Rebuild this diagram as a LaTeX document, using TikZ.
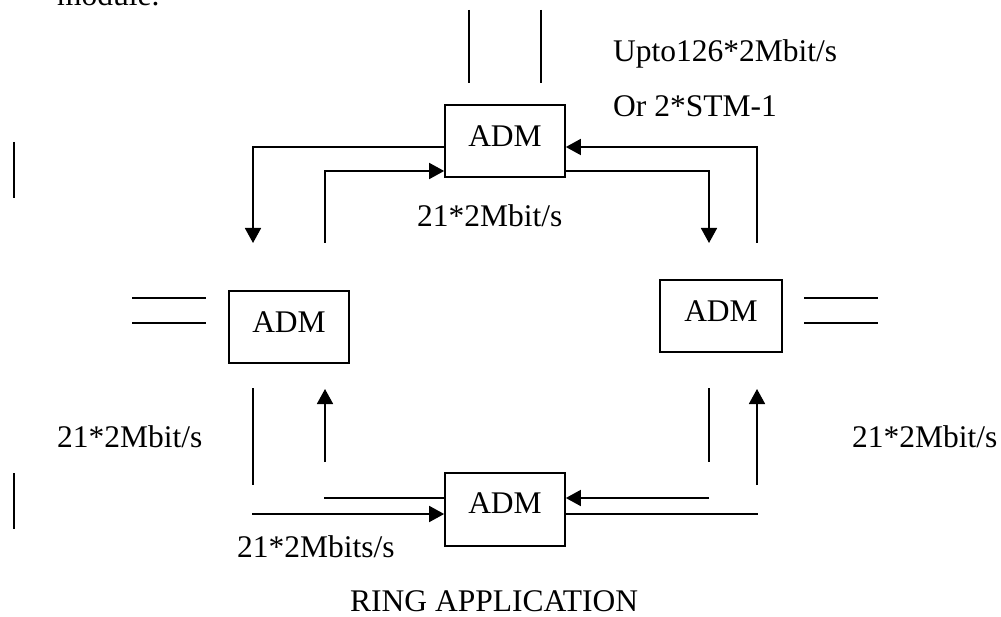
\documentclass[tikz,border=0pt]{standalone}
\usepackage{fontspec}
\setmainfont{Liberation Serif}
\usetikzlibrary{arrows.meta}
\begin{document}
\begin{tikzpicture}[x=1pt,y=-1pt,
  ln/.style={line width=1.7pt},
  arr/.style={line width=1.7pt,-{Triangle[length=15pt,width=16pt]}},
  adm/.style={draw,line width=1.7pt,minimum width=120pt,minimum height=72pt,inner sep=0pt,text depth=10pt,font=\fontsize{31.5}{36}\selectfont},
  lbl/.style={anchor=base west,inner sep=0pt,font=\fontsize{31.5}{36}\selectfont}]
\clip (0,0) rectangle (1001,617);
\fill[white] (0,0) rectangle (1001,617);
% text
\node[lbl] (mod) at (57,6) {module.};
\node[lbl] (t1) at (613,62) {Upto126*2Mbit/s};
\node[lbl] (t2) at (613,117) {Or 2*STM-1};
\node[lbl] (t3) at (417,227) {21*2Mbit/s};
\node[lbl] (t4) at (57,447) {21*2Mbit/s};
\node[lbl] (t5) at (852,447) {21*2Mbit/s};
\node[lbl] (t6) at (237,557) {21*2Mbits/s};
\node[lbl] (t7) at (350,611) {RING APPLICATION};
% boxes
\node[adm] (top) at (505,141) {ADM};
\node[adm] (left) at (289,327) {ADM};
\node[adm,minimum width=122pt] (right) at (721,316) {ADM};
\node[adm,minimum height=73pt,text depth=13pt] (bot) at (505,509.5) {ADM};
% free ends
\coordinate (e1) at (253,243);
\coordinate (e2) at (325,243);
\coordinate (e3) at (757,243);
\coordinate (e4) at (709,243);
\coordinate (u1a) at (469,10); \coordinate (u1b) at (469,83);
\coordinate (u2a) at (541,10); \coordinate (u2b) at (541,83);
\coordinate (l1a) at (132,298); \coordinate (l1b) at (206,298);
\coordinate (l2a) at (132,323); \coordinate (l2b) at (206,323);
\coordinate (r1a) at (804,298); \coordinate (r1b) at (878,298);
\coordinate (r2a) at (804,323); \coordinate (r2b) at (878,323);
\coordinate (v1a) at (14,142); \coordinate (v1b) at (14,198);
\coordinate (v2a) at (14,473); \coordinate (v2b) at (14,529);
\coordinate (bl1a) at (253,388); \coordinate (bl1b) at (253,485);
\coordinate (bl2a) at (325,462); \coordinate (bl2b) at (325,389);
\coordinate (bl3) at (324,498);
\coordinate (bl4) at (252,514);
\coordinate (br1a) at (709,388); \coordinate (br1b) at (709,462);
\coordinate (br2a) at (757,485); \coordinate (br2b) at (757,389);
\coordinate (br3) at (709,498);
\coordinate (br4) at (758,514);
% top connectors
\draw[arr] ([yshift=-6pt]top.west) -| (e1);
\draw[arr] (e2) |- ([yshift=-30pt]top.west);
\draw[arr] (e3) |- ([yshift=-6pt]top.east);
\draw[arr] ([yshift=-30pt]top.east) -| (e4);
\draw[ln] (u1a) -- (u1b);
\draw[ln] (u2a) -- (u2b);
% side lines
\draw[ln] (l1a) -- (l1b);
\draw[ln] (l2a) -- (l2b);
\draw[ln] (r1a) -- (r1b);
\draw[ln] (r2a) -- (r2b);
\draw[ln] (v1a) -- (v1b);
\draw[ln] (v2a) -- (v2b);
% bottom left
\draw[ln] (bl1a) -- (bl1b);
\draw[arr] (bl2a) -- (bl2b);
\draw[ln] (bl3) -- ([yshift=11.5pt]bot.west);
\draw[arr] (bl4) -- ([yshift=-4.5pt]bot.west);
% bottom right
\draw[ln] (br1a) -- (br1b);
\draw[arr] (br2a) -- (br2b);
\draw[arr] (br3) -- ([yshift=11.5pt]bot.east);
\draw[ln] ([yshift=-4.5pt]bot.east) -- (br4);
\end{tikzpicture}
\end{document}
